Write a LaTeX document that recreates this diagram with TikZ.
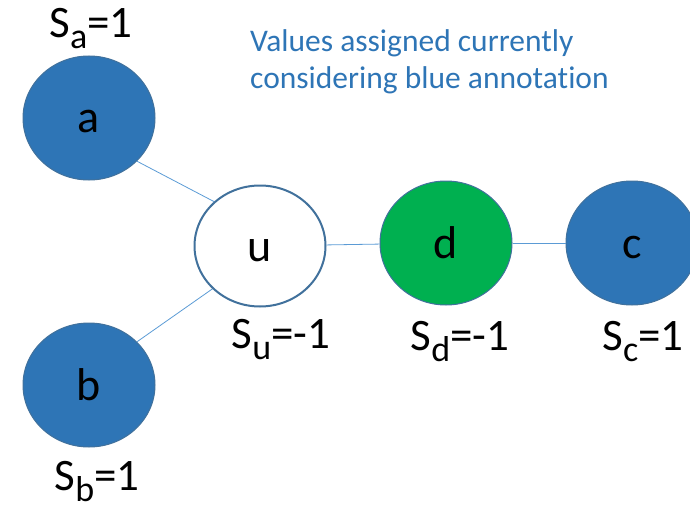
\documentclass[tikz,border=0pt]{standalone}
\usepackage{fontspec}
\setmainfont[Ligatures=NoCommon]{Carlito}
\usetikzlibrary{shapes.geometric}

\definecolor{nodeblue}{HTML}{2E75B6}
\definecolor{rimblue}{HTML}{41719C}
\definecolor{edgeblue}{HTML}{5B9BD5}
\definecolor{nodegreen}{HTML}{00B050}

\newcommand{\lowsub}[1]{\raisebox{-11pt}{\fontsize{36}{36}\selectfont #1}}

\begin{document}
\begin{tikzpicture}[x=1pt,y=1pt]
   \tikzstyle{vertex}=[ellipse,draw=rimblue,line width=1pt,inner sep=0pt,
      minimum width=132pt,minimum height=124pt,text height=30pt,text depth=0pt,
      font=\fontsize{46}{46}\selectfont]
   \tikzstyle{value}=[anchor=base,inner sep=0pt,font=\fontsize{45}{45}\selectfont]
   \tikzstyle{link}=[draw=edgeblue,line width=0.8pt]

   \useasboundingbox (0,0) rectangle (690,507) ;

   \node (a) [vertex,fill=nodeblue] at (89,389) {a} ;
   \node (b) [vertex,fill=nodeblue] at (89,122) {b} ;
   \node (u) [vertex,fill=white,line width=2pt,minimum width=131pt,minimum height=121pt] at (260,261) {u} ;
   \node (d) [vertex,fill=nodegreen] at (446,264) {d} ;
   \node (c) [vertex,fill=nodeblue] at (632,264) {c} ;

   \draw [link] (a.-42) -- (u.136) ;
   \draw [link] (b.42) -- (u.222) ;
   \draw [link] (u) -- (d) ;
   \draw [link] (d) -- (c) ;

   \node (sa) [value] at (91,469) {S\lowsub{a}=1} ;
   \node (sb) [value] at (97,17) {S\lowsub{b}=1} ;
   \node (su) [value] at (281,159) {S\lowsub{u}=-1} ;
   \node (sd) [value] at (460,157) {S\lowsub{d}=-1} ;
   \node (sc) [value] at (643,157) {S\lowsub{c}=1} ;

   \node (note) [anchor=base west,inner sep=0pt,align=left,text=nodeblue,
      font=\fontsize{31.5}{37}\selectfont] at (250,418)
      {Values assigned currently\\considering blue annotation} ;

\end{tikzpicture}
\end{document}
